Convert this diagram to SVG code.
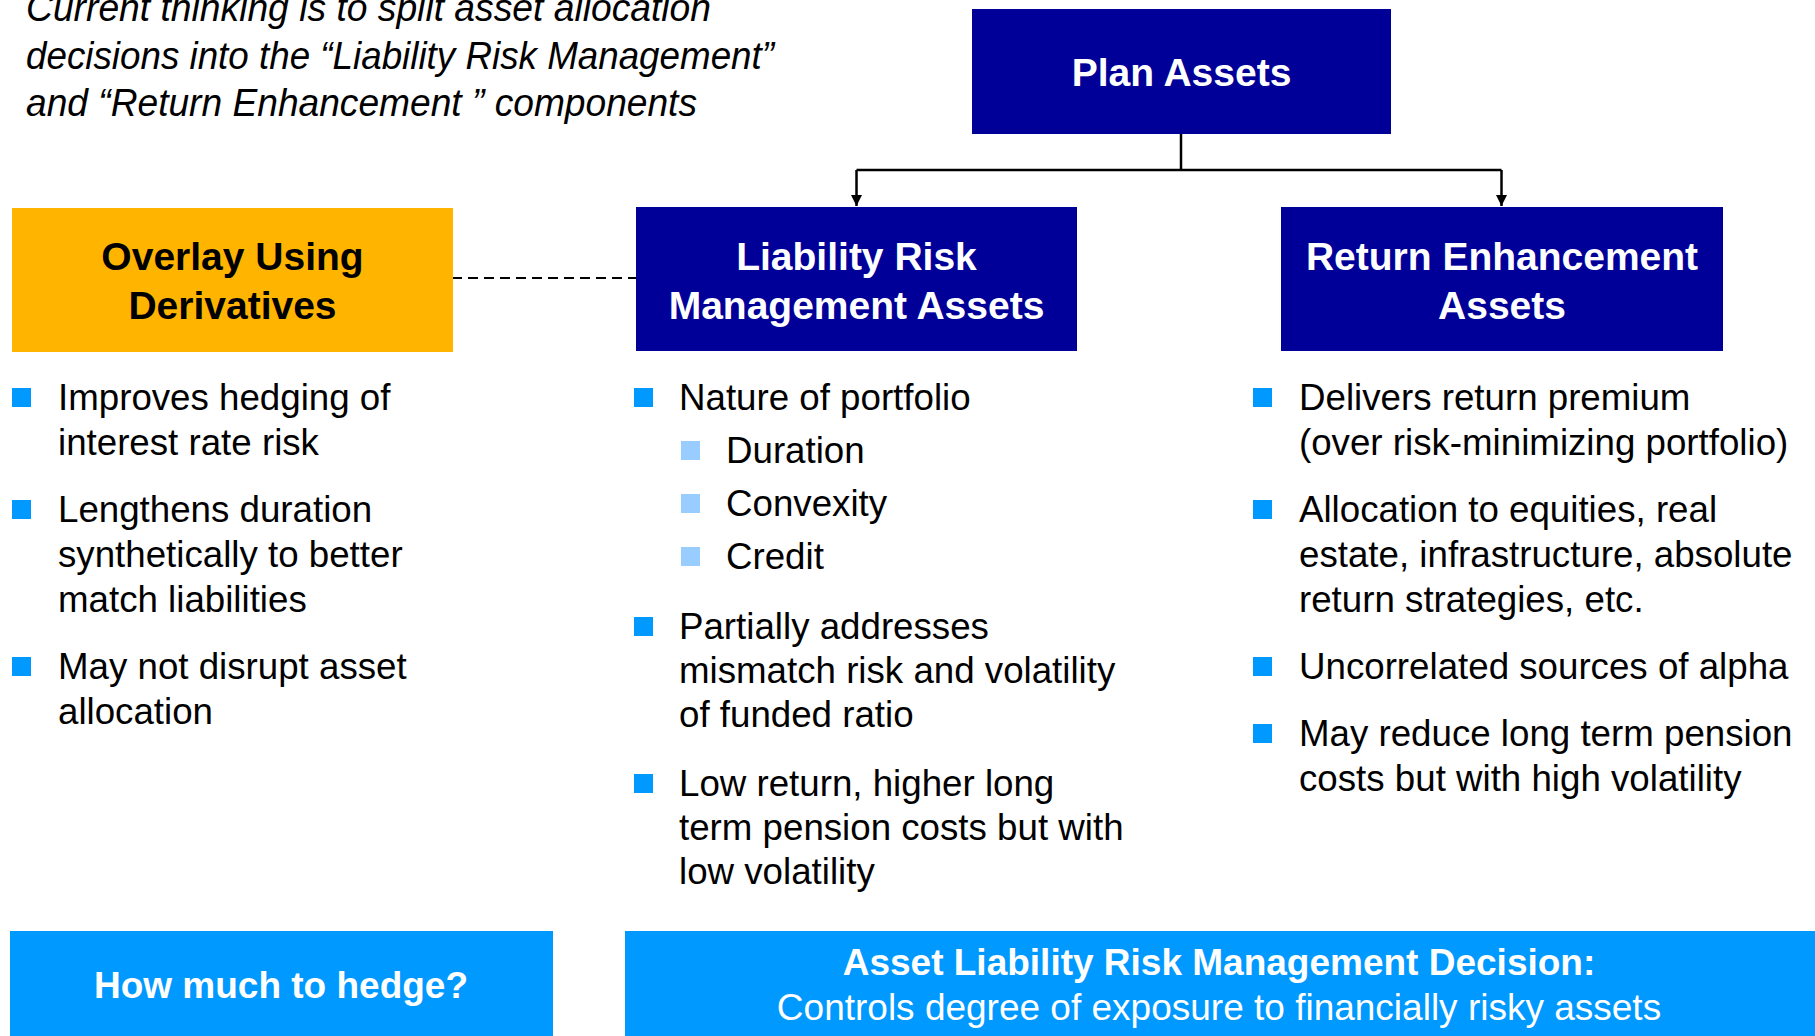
<svg xmlns="http://www.w3.org/2000/svg" width="1815" height="1036" viewBox="0 0 1815 1036">
  <style>
    .caption { font-family: "Liberation Sans", Arial, sans-serif; font-style: italic; font-size: 39px; fill: #000; }
    .head { font-family: "Liberation Sans", Arial, sans-serif; font-weight: bold; font-size: 39px; fill: #fff; text-anchor: middle; }
    .head-dark { fill: #000; }
    .navy { fill: #000099; }
    .amber { fill: #FFB400; }
    .sky { fill: #0099FF; }
    .bul { fill: #0099FF; }
    .sub { fill: #99CCFF; }
    .body { font-family: "Liberation Sans", Arial, sans-serif; font-size: 36.7px; fill: #000; }
    .foot { font-family: "Liberation Sans", Arial, sans-serif; font-size: 37px; fill: #fff; text-anchor: middle; }
    .foot-b { font-weight: bold; }
    .wire { stroke: #000; stroke-width: 2.5; fill: none; }
    .dash { stroke: #000; stroke-width: 2.2; fill: none; stroke-dasharray: 10 6; }
  </style>
  <defs>
    <marker id="tip" viewBox="0 0 10 10" refX="10" refY="5" markerWidth="4.4" markerHeight="4.4" markerUnits="strokeWidth" orient="auto">
      <path d="M0,0 L10,5 L0,10 z" fill="#000"/>
    </marker>
  </defs>

  <rect width="1815" height="1036" fill="#fff"/>

  <!-- intro note -->
  <g id="note">
    <text class="caption" x="26" y="21" textLength="685" lengthAdjust="spacingAndGlyphs">Current thinking is to split asset allocation</text>
    <text class="caption" x="26" y="69" textLength="748" lengthAdjust="spacingAndGlyphs">decisions into the “Liability Risk Management”</text>
    <text class="caption" x="26" y="116" textLength="671" lengthAdjust="spacingAndGlyphs">and “Return Enhancement ” components</text>
  </g>

  <!-- connectors -->
  <g id="connectors">
    <path class="wire" d="M1181,134 V170"/>
    <path class="wire" d="M856.5,170 H1501.5"/>
    <path class="wire" d="M856.5,170 V206" marker-end="url(#tip)"/>
    <path class="wire" d="M1501.5,170 V206" marker-end="url(#tip)"/>
    <path class="dash" d="M452,278 H636"/>
  </g>

  <g id="plan-assets">
    <rect class="navy" x="972" y="9" width="419" height="125"/>
    <text class="head" x="1181.5" y="86">Plan Assets</text>
  </g>

  <g id="overlay">
    <rect class="amber" x="12" y="208" width="441" height="144"/>
    <text class="head head-dark" x="232.5" y="270">Overlay Using</text>
    <text class="head head-dark" x="232.5" y="319">Derivatives</text>
  </g>

  <g id="liability-risk">
    <rect class="navy" x="636" y="207" width="441" height="144"/>
    <text class="head" x="856.5" y="270">Liability Risk</text>
    <text class="head" x="856.5" y="319">Management Assets</text>
  </g>

  <g id="return-enhancement">
    <rect class="navy" x="1281" y="207" width="442" height="144"/>
    <text class="head" x="1502" y="270">Return Enhancement</text>
    <text class="head" x="1502" y="319">Assets</text>
  </g>

  <!-- overlay points -->
  <g id="overlay-points">
    <rect class="bul" x="12" y="388" width="19" height="19"/>
    <text class="body" x="58" y="410">Improves hedging of</text>
    <text class="body" x="58" y="455">interest rate risk</text>
    <rect class="bul" x="12" y="500" width="19" height="19"/>
    <text class="body" x="58" y="522">Lengthens duration</text>
    <text class="body" x="58" y="567">synthetically to better</text>
    <text class="body" x="58" y="612">match liabilities</text>
    <rect class="bul" x="12" y="657" width="19" height="19"/>
    <text class="body" x="58" y="679">May not disrupt asset</text>
    <text class="body" x="58" y="724">allocation</text>
  </g>

  <!-- liability risk points -->
  <g id="liability-points">
    <rect class="bul" x="634" y="388" width="19" height="19"/>
    <text class="body" x="679" y="410">Nature of portfolio</text>
    <rect class="sub" x="681" y="441" width="19" height="19"/>
    <text class="body" x="726" y="463">Duration</text>
    <rect class="sub" x="681" y="494" width="19" height="19"/>
    <text class="body" x="726" y="516">Convexity</text>
    <rect class="sub" x="681" y="547" width="19" height="19"/>
    <text class="body" x="726" y="569">Credit</text>
    <rect class="bul" x="634" y="617" width="19" height="19"/>
    <text class="body" x="679" y="639">Partially addresses</text>
    <text class="body" x="679" y="683">mismatch risk and volatility</text>
    <text class="body" x="679" y="727">of funded ratio</text>
    <rect class="bul" x="634" y="774" width="19" height="19"/>
    <text class="body" x="679" y="796">Low return, higher long</text>
    <text class="body" x="679" y="840">term pension costs but with</text>
    <text class="body" x="679" y="884">low volatility</text>
  </g>

  <!-- return enhancement points -->
  <g id="return-points">
    <rect class="bul" x="1253" y="388" width="19" height="19"/>
    <text class="body" x="1299" y="410">Delivers return premium</text>
    <text class="body" x="1299" y="455">(over risk-minimizing portfolio)</text>
    <rect class="bul" x="1253" y="500" width="19" height="19"/>
    <text class="body" x="1299" y="522">Allocation to equities, real</text>
    <text class="body" x="1299" y="567">estate, infrastructure, absolute</text>
    <text class="body" x="1299" y="612">return strategies, etc.</text>
    <rect class="bul" x="1253" y="657" width="19" height="19"/>
    <text class="body" x="1299" y="679">Uncorrelated sources of alpha</text>
    <rect class="bul" x="1253" y="724" width="19" height="19"/>
    <text class="body" x="1299" y="746">May reduce long term pension</text>
    <text class="body" x="1299" y="791">costs but with high volatility</text>
  </g>

  <g id="hedge-question">
    <rect class="sky" x="10" y="931" width="543" height="110"/>
    <text class="foot foot-b" x="281" y="998">How much to hedge?</text>
  </g>

  <g id="alm-decision">
    <rect class="sky" x="625" y="931" width="1190" height="110"/>
    <text class="foot foot-b" x="1219" y="975">Asset Liability Risk Management Decision:</text>
    <text class="foot" x="1219" y="1020">Controls degree of exposure to financially risky assets</text>
  </g>
</svg>
